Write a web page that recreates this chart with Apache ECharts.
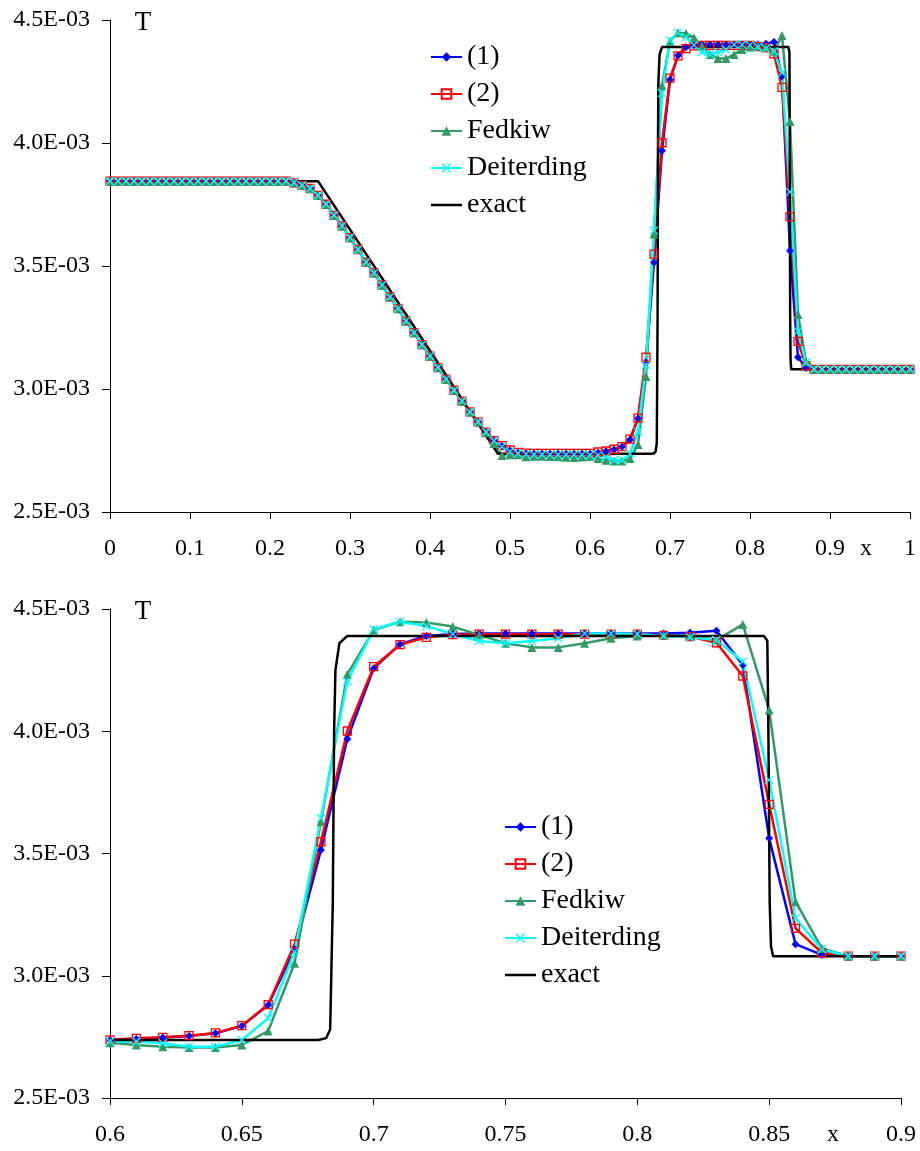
<!DOCTYPE html>
<html>
<head>
<meta charset="utf-8">
<script src="https://cdn.jsdelivr.net/npm/echarts@6/dist/echarts.min.js"></script>
<style>
html,body{margin:0;padding:0;background:#fff;}
#chart{width:920px;height:1151px;}
</style>
</head>
<body>
<div id="chart"></div>
<script>
// x positions of the numerical samples
const xs = [0,0.01,0.02,0.03,0.04,0.05,0.06,0.07,0.08,0.09,
0.10,0.11,0.12,0.13,0.14,0.15,0.16,0.17,0.18,0.19,
0.20,0.21,0.22,0.23,0.24,0.25,0.26,0.27,0.28,0.29,
0.30,0.31,0.32,0.33,0.34,0.35,0.36,0.37,0.38,0.39,
0.40,0.41,0.42,0.43,0.44,0.45,0.46,0.47,0.48,0.49,
0.50,0.51,0.52,0.53,0.54,0.55,0.56,0.57,0.58,0.59,
0.60,0.61,0.62,0.63,0.64,0.65,0.66,0.67,0.68,0.69,
0.70,0.71,0.72,0.73,0.74,0.75,0.76,0.77,0.78,0.79,
0.80,0.81,0.82,0.83,0.84,0.85,0.86,0.87,0.88,0.89,
0.90,0.91,0.92,0.93,0.94,0.95,0.96,0.97,0.98,0.99,1.00];

// T values in units of 1E-03
const T1 = [3.845,3.845,3.845,3.845,3.845,3.845,3.845,3.845,3.845,3.845,
3.845,3.845,3.845,3.845,3.845,3.845,3.845,3.845,3.845,3.845,
3.845,3.845,3.845,3.838,3.828,3.815,3.787,3.751,3.706,3.663,
3.615,3.567,3.516,3.472,3.422,3.374,3.327,3.276,3.229,3.180,
3.134,3.087,3.040,2.995,2.951,2.907,2.866,2.825,2.790,2.768,
2.750,2.741,2.738,2.737,2.737,2.737,2.737,2.737,2.737,2.737,
2.737,2.741,2.747,2.754,2.765,2.794,2.880,3.108,3.514,3.968,
4.257,4.356,4.390,4.398,4.400,4.400,4.400,4.400,4.400,4.400,
4.400,4.400,4.403,4.411,4.271,3.562,3.129,3.085,3.080,3.080,
3.080,3.080,3.080,3.080,3.080,3.080,3.080,3.080,3.080,3.080,3.080];

const T2 = [3.845,3.845,3.845,3.845,3.845,3.845,3.845,3.845,3.845,3.845,
3.845,3.845,3.845,3.845,3.845,3.845,3.845,3.845,3.845,3.845,
3.845,3.845,3.845,3.838,3.828,3.815,3.787,3.751,3.706,3.663,
3.615,3.567,3.516,3.472,3.422,3.374,3.327,3.276,3.229,3.180,
3.134,3.087,3.040,2.995,2.951,2.907,2.866,2.825,2.790,2.770,
2.752,2.742,2.739,2.738,2.738,2.738,2.738,2.738,2.738,2.738,
2.738,2.744,2.748,2.755,2.766,2.796,2.882,3.129,3.548,4.001,
4.264,4.354,4.384,4.395,4.397,4.397,4.397,4.397,4.397,4.397,
4.397,4.392,4.387,4.362,4.226,3.701,3.194,3.094,3.080,3.080,
3.080,3.080,3.080,3.080,3.080,3.080,3.080,3.080,3.080,3.080,3.080];

const TFedkiw = [3.845,3.845,3.845,3.845,3.845,3.845,3.845,3.845,3.845,3.845,
3.845,3.845,3.845,3.845,3.845,3.845,3.845,3.845,3.845,3.845,
3.845,3.845,3.845,3.838,3.828,3.815,3.787,3.751,3.706,3.663,
3.615,3.567,3.516,3.472,3.422,3.374,3.327,3.276,3.229,3.180,
3.134,3.087,3.040,2.995,2.951,2.907,2.866,2.822,2.778,2.730,
2.733,2.733,2.725,2.727,2.727,2.726,2.725,2.723,2.722,2.724,
2.726,2.717,2.710,2.707,2.707,2.717,2.774,3.051,3.630,4.233,
4.414,4.448,4.445,4.428,4.394,4.360,4.343,4.343,4.360,4.380,
4.390,4.394,4.390,4.373,4.437,4.087,3.303,3.112,3.081,3.080,
3.080,3.080,3.080,3.080,3.080,3.080,3.080,3.080,3.080,3.080,3.080];

const TDeiterding = [3.845,3.845,3.845,3.845,3.845,3.845,3.845,3.845,3.845,3.845,
3.845,3.845,3.845,3.845,3.845,3.845,3.845,3.845,3.845,3.845,
3.845,3.845,3.845,3.838,3.828,3.815,3.787,3.751,3.706,3.663,
3.615,3.567,3.516,3.472,3.422,3.374,3.327,3.276,3.229,3.180,
3.134,3.087,3.040,2.995,2.951,2.907,2.866,2.825,2.790,2.765,
2.745,2.738,2.735,2.733,2.733,2.733,2.733,2.733,2.733,2.733,
2.731,2.731,2.724,2.710,2.710,2.737,2.826,3.098,3.644,4.203,
4.417,4.448,4.430,4.398,4.369,4.360,4.369,4.380,4.400,4.400,
4.398,4.390,4.384,4.373,4.285,3.801,3.235,3.108,3.080,3.080,
3.080,3.080,3.080,3.080,3.080,3.080,3.080,3.080,3.080,3.080,3.080];

// exact solution (breakpoints)
const exactX = [0,0.26,0.485,0.679,0.682,0.6835,0.6845,0.685,0.6855,0.687,0.690,
0.848,0.8493,0.8497,0.8502,0.8507,0.8515,1.0];
const exactT = [3.845,3.845,2.737,2.737,2.745,2.78,3.3,4.0,4.25,4.36,4.39,
4.39,4.37,4.0,3.3,3.12,3.08,3.08];

const seriesNames = ['(1)','(2)','Fedkiw','Deiterding','exact'];
const yTicks = {min:2.5, max:4.5, interval:0.5};
const xTop = {min:0, max:1, interval:0.1};
const xBottom = {min:0.6, max:0.9, interval:0.05};

const FONT = 'Liberation Serif';
const pairs = (xa, ya) => xa.map((x, i) => [x, ya[i]]);
const crossPath = 'path://M1,0 L5,4 L9,0 L10,1 L6,5 L10,9 L9,10 L5,6 L1,10 L0,9 L4,5 L0,1 Z';
const lineIcon = 'path://M0,0 L31,0 L31,2.5 L0,2.5 Z';

function makeSeries(gi) {
  const base = {type:'line', xAxisIndex:gi, yAxisIndex:gi, clip:true, silent:true,
    animation:false, emphasis:{disabled:true}};
  return [
    Object.assign({}, base, {name:'(1)', data:pairs(xs,T1), symbol:'diamond', symbolSize:8,
      lineStyle:{color:'#0000ff', width:2.5}, itemStyle:{color:'#0000ff'}}),
    Object.assign({}, base, {name:'(2)', data:pairs(xs,T2), symbol:'rect', symbolSize:8,
      lineStyle:{color:'#ff0000', width:2.5},
      itemStyle:{color:'rgba(255,255,255,0)', borderColor:'#ff0000', borderWidth:1.3}}),
    Object.assign({}, base, {name:'Fedkiw', data:pairs(xs,TFedkiw), symbol:'triangle', symbolSize:9,
      lineStyle:{color:'#339966', width:2.5}, itemStyle:{color:'#339966'}}),
    Object.assign({}, base, {name:'Deiterding', data:pairs(xs,TDeiterding), symbol:crossPath, symbolSize:9,
      lineStyle:{color:'#00ffff', width:2.5}, itemStyle:{color:'#00ffff'}}),
    Object.assign({}, base, {name:'exact', data:pairs(exactX,exactT), showSymbol:false, symbol:'none',
      lineStyle:{color:'#000000', width:2.5}, itemStyle:{color:'#000000'}})
  ];
}

function yAxis(gi) {
  return {type:'value', gridIndex:gi, min:yTicks.min, max:yTicks.max, interval:yTicks.interval,
    axisLine:{show:true, lineStyle:{color:'#000', width:1}},
    axisTick:{show:true, length:8, lineStyle:{color:'#000'}},
    splitLine:{show:false},
    axisLabel:{fontFamily:FONT, fontSize:24, color:'#000', margin:20,
      formatter: v => v.toFixed(1) + 'E-03'}};
}
function xAxis(gi, r) {
  return {type:'value', gridIndex:gi, min:r.min, max:r.max, interval:r.interval,
    axisLine:{show:true, onZero:false, lineStyle:{color:'#000', width:1}},
    axisTick:{show:true, length:7, lineStyle:{color:'#000'}},
    splitLine:{show:false},
    axisLabel:{fontFamily:FONT, fontSize:24, color:'#000', margin:25}};
}
function legend(left, top) {
  return {orient:'vertical', left:left, top:top, itemWidth:31, itemHeight:12, itemGap:9,
    selectedMode:false,
    data:seriesNames.map(n => n === 'exact'
      ? {name:n, icon:lineIcon, itemStyle:{color:'#000'}}
      : n),
    textStyle:{fontFamily:FONT, fontSize:28, color:'#000', lineHeight:28}};
}

const chart = echarts.init(document.getElementById('chart'), null, {renderer:'canvas'});
chart.setOption({
  animation:false,
  backgroundColor:'#fff',
  grid:[
    {left:110, top:20, width:800, height:492},
    {left:110, top:609, width:791, height:489}
  ],
  xAxis:[xAxis(0, xTop), xAxis(1, xBottom)],
  yAxis:[yAxis(0), yAxis(1)],
  legend:[legend(425, 38), legend(499, 808)],
  graphic:[
    {type:'text', x:143, y:23, style:{text:'T', fontFamily:FONT, fontSize:27, fill:'#000', align:'center', verticalAlign:'middle'}},
    {type:'text', x:143, y:612, style:{text:'T', fontFamily:FONT, fontSize:27, fill:'#000', align:'center', verticalAlign:'middle'}},
    {type:'text', x:866, y:549, style:{text:'x', fontFamily:FONT, fontSize:24, fill:'#000', align:'center', verticalAlign:'middle'}},
    {type:'text', x:833, y:1135, style:{text:'x', fontFamily:FONT, fontSize:24, fill:'#000', align:'center', verticalAlign:'middle'}}
  ],
  series: makeSeries(0).concat(makeSeries(1))
});
</script>
</body>
</html>
